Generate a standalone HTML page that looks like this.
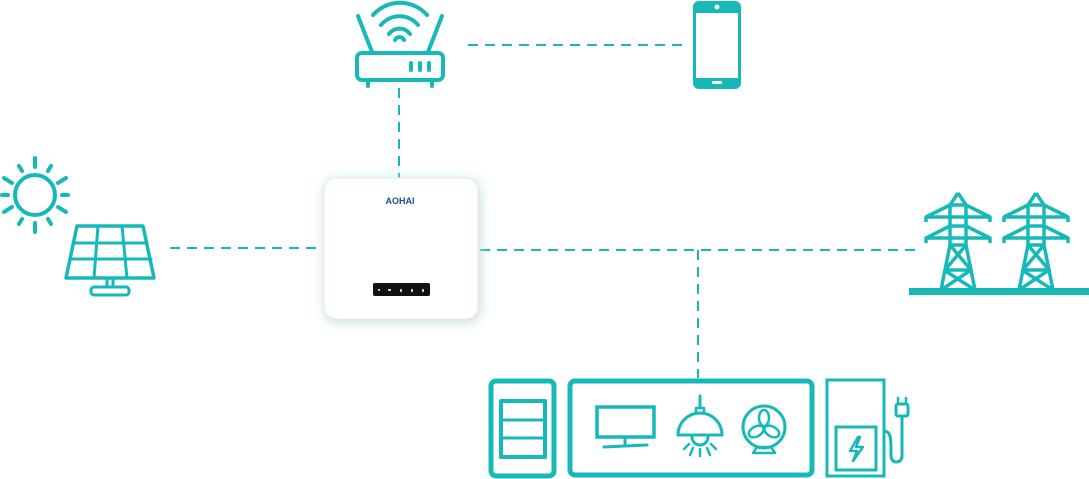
<!DOCTYPE html>
<html><head><style>body{margin:0;background:#fff}svg{display:block}</style></head><body>
<svg width="1089" height="479" viewBox="0 0 1089 479" xmlns="http://www.w3.org/2000/svg">
<defs>
<filter id="sh" x="-30%" y="-30%" width="160%" height="160%"><feGaussianBlur stdDeviation="5"/></filter>
</defs>
<g stroke="#17b9b8" stroke-width="2" stroke-dasharray="10,7" fill="none">
<line x1="468" y1="45" x2="684" y2="45"/>
<line x1="399" y1="88" x2="399" y2="178"/>
<line x1="170" y1="248" x2="322" y2="248"/>
<line x1="480" y1="250" x2="915" y2="250"/>
<line x1="698" y1="250" x2="698" y2="378"/>
</g>
<!-- inverter -->
<rect x="322" y="175" width="160" height="148" rx="14" fill="#bfeeee" filter="url(#sh)" opacity="0.5"/>
<rect x="326" y="184" width="154" height="138" rx="12" fill="#c8c8c8" filter="url(#sh)" opacity="0.5"/>
<rect x="324" y="178" width="154" height="141" rx="12" fill="#fff" stroke="#e8e8e8"/>
<text x="400" y="204" font-family="Liberation Sans,sans-serif" font-weight="bold" font-size="9" fill="#1a4fa0" text-anchor="middle">AOHAI</text>
<rect x="373" y="283" width="57" height="13" rx="2" fill="#111"/>
<g fill="#ccc"><rect x="378" y="289" width="2" height="2"/><rect x="388" y="289" width="3" height="2"/><rect x="400" y="289" width="2" height="3"/><rect x="411" y="289" width="2" height="3"/><rect x="422" y="289" width="2" height="3"/></g>
<g stroke="#17b9b8" fill="none" stroke-width="4" stroke-linecap="round" stroke-linejoin="round">
<!-- router -->
<rect x="357" y="53" width="86" height="27" rx="5"/>
<line x1="358" y1="16" x2="372" y2="52"/><line x1="442" y1="16" x2="428" y2="52"/>
<line x1="368" y1="81" x2="368" y2="86"/><line x1="432" y1="81" x2="432" y2="86"/>
<path d="M373 15 A36 36 0 0 1 427 15"/><path d="M381 25 A24 24 0 0 1 418 25"/><path d="M389 34 A13 13 0 0 1 410 34"/><path d="M395 40 A5 5 0 0 1 404 40"/>
<line x1="411" y1="63" x2="411" y2="70"/><line x1="420" y1="63" x2="420" y2="70"/><line x1="429" y1="63" x2="429" y2="70"/>
<!-- sun -->
<circle cx="35" cy="195" r="20"/>
<line x1="35" y1="158" x2="35" y2="167"/><line x1="35" y1="223" x2="35" y2="232"/>
<line x1="2" y1="195" x2="8" y2="195"/><line x1="62" y1="195" x2="68" y2="195"/>
<line x1="19" y1="166" x2="22" y2="171"/><line x1="51" y1="166" x2="48" y2="171"/>
<line x1="19" y1="224" x2="22" y2="219"/><line x1="51" y1="224" x2="48" y2="219"/>
<line x1="4" y1="178" x2="12" y2="183"/><line x1="66" y1="178" x2="58" y2="183"/>
<line x1="4" y1="212" x2="12" y2="207"/><line x1="66" y1="212" x2="58" y2="207"/>
<!-- panel -->
<path d="M77 226 L143 226 L154 278 L66 278 Z" stroke-width="3.5"/>
<line x1="73" y1="243" x2="147" y2="243" stroke-width="3"/><line x1="70" y1="259" x2="151" y2="259" stroke-width="3"/>
<line x1="98" y1="226" x2="94" y2="278" stroke-width="3"/><line x1="122" y1="226" x2="127" y2="278" stroke-width="3"/>
<line x1="107" y1="279" x2="107" y2="287" stroke-width="3"/><line x1="113" y1="279" x2="113" y2="287" stroke-width="3"/>
<rect x="91" y="287" width="38" height="8" rx="3" stroke-width="3"/>
<!-- bottom -->
<rect x="491" y="381" width="63" height="95" rx="5" stroke-width="5"/>
<rect x="501" y="401" width="44" height="56" stroke-width="4" stroke-linecap="butt"/>
<line x1="501" y1="420" x2="545" y2="420" stroke-width="3"/><line x1="501" y1="438" x2="545" y2="438" stroke-width="3"/>
<rect x="570" y="381" width="242" height="94" rx="5" stroke-width="5"/>
<rect x="597" y="407" width="57" height="30" stroke-width="3.5" stroke-linejoin="miter"/>
<line x1="625" y1="438" x2="625" y2="445" stroke-width="3"/><line x1="604" y1="447" x2="647" y2="445" stroke-width="3"/>
<line x1="700" y1="396" x2="700" y2="408" stroke-width="3"/>
<rect x="696" y="408" width="8" height="5" stroke-width="2.5"/>
<path d="M678 435 A22 22 0 0 1 722 435 Z" stroke-width="3"/>
<path d="M692 437 A8 8 0 0 0 708 437" stroke-width="3"/>
<line x1="700" y1="449" x2="700" y2="456" stroke-width="2.5"/><line x1="689" y1="444" x2="684" y2="449" stroke-width="2.5"/><line x1="711" y1="444" x2="716" y2="449" stroke-width="2.5"/><line x1="693" y1="448" x2="690" y2="455" stroke-width="2.5"/><line x1="707" y1="448" x2="710" y2="455" stroke-width="2.5"/>
<circle cx="764" cy="427" r="21" stroke-width="3"/>
<g stroke-width="2.5">
<ellipse cx="764" cy="418" rx="5" ry="8"/>
<ellipse cx="764" cy="418" rx="5" ry="8" transform="rotate(120 764 427)"/>
<ellipse cx="764" cy="418" rx="5" ry="8" transform="rotate(240 764 427)"/>
</g>
<path d="M757 447 L771 447 L775 453 L753 453 Z" stroke-width="2.5"/>
<rect x="827" y="380" width="57" height="96" stroke-width="3" stroke-linejoin="miter"/>
<rect x="836" y="427" width="40" height="43" stroke-width="3" stroke-linejoin="miter"/>
<path d="M858 437 L850 451 L857 451 L853 461 L863 447 L856 447 L860 437 Z" stroke-width="2.5"/>
<path d="M884 431 C891 431 891 440 891 450 L891 456 C891 464 902 464 902 456 L902 418" stroke-width="3"/>
<rect x="896" y="404" width="12" height="12" rx="2" stroke-width="3"/>
<line x1="898" y1="398" x2="898" y2="404" stroke-width="2.5"/><line x1="906" y1="398" x2="906" y2="404" stroke-width="2.5"/>
</g>
<!-- phone -->
<rect x="693" y="1" width="48" height="88" rx="6" fill="#17b9b8"/>
<rect x="696" y="13" width="42" height="65" fill="#fff"/>
<circle cx="717" cy="7" r="2.5" fill="#fff"/>
<rect x="712" y="81" width="10" height="3" fill="#fff"/>
<!-- towers -->
<g stroke="#17b9b8" fill="none" stroke-width="3.5" stroke-linejoin="round">
<g id="tw">
<path d="M958 193 L950 205 L950 245 M958 193 L966 205 L966 245"/>
<path d="M926 222 L926 217 L950 205 L966 205 L990 217 L990 222 M926 217 L990 217"/>
<path d="M926 243 L926 238 L950 226 L966 226 L990 238 L990 243 M926 238 L990 238"/>
<path d="M950 245 L941 290 M966 245 L975 290 M950 245 L966 245"/>
<path d="M950 245 L971 270 L944 270 M966 245 L945 270 L971 270 M944 270 L975 290 M971 270 L941 290"/>
</g>
<use href="#tw" transform="translate(78,0)"/>
</g>
<rect x="909" y="288" width="180" height="7" fill="#17b9b8"/>
</svg>
</body></html>
